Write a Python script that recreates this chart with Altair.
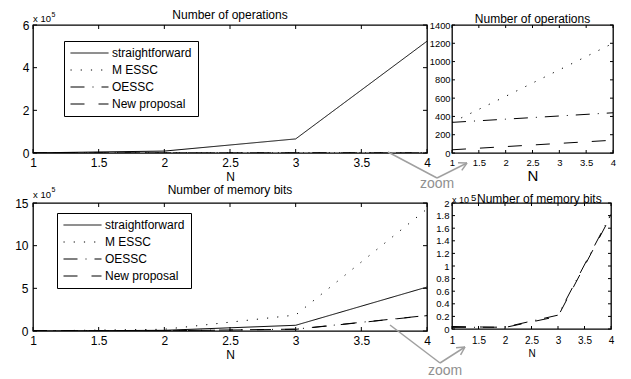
import math
import altair as alt
import pandas as pd

FONT = "Liberation Sans"
GRAY = "#a0a0a0"

N = [1, 2, 3, 4]
SERIES = ["straightforward", "M ESSC", "OESSC", "New proposal"]
DASHES = [[1, 0], [1.2, 9], [14, 8, 1, 8], [14, 14]]

ops_straight = [600, 9000, 66000, 524000]
ops_messc = [335, 620, 910, 1200]
ops_oessc = [335, 370, 405, 440]
ops_new = [35, 70, 105, 140]

mem_straight = [500, 8000, 67000, 515000]
mem_messc = [1000, 20000, 187000, 1430000]
mem_oessc = [2500, 3000, 22000, 182000]
mem_new = [4000, 2500, 20000, 180000]

x_ticks = [1, 1.5, 2, 2.5, 3, 3.5, 4]
ops_ticks = [0, 200000, 400000, 600000]
ops_zoom_ticks = [0, 200, 400, 600, 800, 1000, 1200, 1400]
mem_ticks = [0, 500000, 1000000, 1500000]
mem_zoom_ticks = [0, 20000, 40000, 60000, 80000, 100000, 120000, 140000, 160000, 180000, 200000]


def long_df(vals, names):
    rows = []
    for name, v in zip(SERIES, vals):
        if name in names:
            for n, y in zip(N, v):
                rows.append({"N": n, "value": y, "series": name})
    return pd.DataFrame(rows)


def txt(text, x, y, size, color="black", align="center"):
    return alt.Chart(pd.DataFrame({"t": [text]})).mark_text(
        align=align, baseline="alphabetic", fontSize=size, font=FONT, color=color
    ).encode(x=alt.value(x), y=alt.value(y), text="t:N")


def seg(x1, y1, x2, y2, color=GRAY, w=1.5):
    return alt.Chart(pd.DataFrame({"a": [0]})).mark_rule(color=color, strokeWidth=w).encode(
        x=alt.value(x1), y=alt.value(y1), x2=alt.value(x2), y2=alt.value(y2)
    )


def arrow(p0, p1, p2, head=9):
    dx, dy = p2[0] - p1[0], p2[1] - p1[1]
    L = math.hypot(dx, dy)
    bx, by = -dx / L, -dy / L
    layers = [seg(*p0, *p1), seg(*p1, *p2)]
    for a in (math.radians(28), -math.radians(28)):
        rx = bx * math.cos(a) - by * math.sin(a)
        ry = bx * math.sin(a) + by * math.cos(a)
        layers.append(seg(p2[0], p2[1], p2[0] + head * rx, p2[1] + head * ry))
    return layers


def panel(vals, names, ydom, yticks, ylab_expr, w, h, *, xfs, yfs, nfs, ylp, xlp,
          legend=None, tick=4, tp=3):
    df = long_df(vals, names)
    xs = alt.Scale(domain=[1, 4], nice=False, zero=False)
    ys = alt.Scale(domain=ydom, nice=False, zero=False)
    xaxis = alt.Axis(values=x_ticks, labelFontSize=xfs, labelPadding=xlp, labelFlush=False,
                     labelOverlap=False, title="N", titleFontSize=nfs, titleFontWeight="normal",
                     titlePadding=tp, labelExpr="format(datum.value, '')")
    yaxis = alt.Axis(values=yticks, labelFontSize=yfs, labelPadding=ylp, labelFlush=False,
                     labelOverlap=False, title=None, labelExpr=ylab_expr)
    dash = alt.StrokeDash("series:N", scale=alt.Scale(domain=SERIES, range=DASHES),
                          sort=SERIES, legend=legend)
    lines = alt.Chart(df).mark_line(color="black", strokeWidth=1, clip=True).encode(
        x=alt.X("N:Q", scale=xs, axis=xaxis),
        y=alt.Y("value:Q", scale=ys, axis=yaxis),
        strokeDash=dash,
    )
    xt = pd.DataFrame({"v": x_ticks})
    yt = pd.DataFrame({"v": yticks})
    tk = []
    for a, b in ((h, h - tick), (0, tick)):
        tk.append(alt.Chart(xt).mark_rule(color="black", strokeWidth=1).encode(
            x=alt.X("v:Q", scale=xs, axis=xaxis), y=alt.value(a), y2=alt.value(b)))
    for a, b in ((0, tick), (w, w - tick)):
        tk.append(alt.Chart(yt).mark_rule(color="black", strokeWidth=1).encode(
            y=alt.Y("v:Q", scale=ys, axis=yaxis), x=alt.value(a), x2=alt.value(b)))
    return [lines] + tk


def leg(x, y):
    return alt.Legend(orient="none", legendX=x, legendY=y, title=None, strokeColor="black",
                      fillColor="white", padding=6, symbolType="stroke", symbolSize=1444,
                      symbolStrokeWidth=1, symbolStrokeColor="black", labelFontSize=12,
                      labelFont=FONT, labelColor="black", rowPadding=5, labelOffset=3,
                      clipHeight=12, cornerRadius=0)


e5 = "format(datum.value / 100000, '')"
plain = "format(datum.value, '')"

ops_vals = [ops_straight, ops_messc, ops_oessc, ops_new]
mem_vals = [mem_straight, mem_messc, mem_oessc, mem_new]

TLW, TLH = 394, 128
tl = alt.layer(
    *panel(ops_vals, SERIES, [0, 600000], ops_ticks, e5, TLW, TLH,
           xfs=12, yfs=12, nfs=12, ylp=4, xlp=4, legend=leg(31, 16)),
    txt("Number of operations", 197, -6, 12),
    txt("x 10", 0, -3, 9.5, align="left"),
    txt("5", 18.5, -8.5, 7, align="left"),
    *arrow((355, 127), (404, 153), (434, 138)),
    txt("zoom", 404, 163, 14, color="#909090"),
).properties(width=TLW, height=TLH)

TRW, TRH = 161, 128
tr = alt.layer(
    *panel(ops_vals, SERIES[1:], [0, 1400], ops_zoom_ticks, plain, TRW, TRH,
           xfs=9.5, yfs=9.3, nfs=15, ylp=2, xlp=4, tick=3, tp=2),
    txt("Number of operations", 80.5, -2, 12),
).properties(width=TRW, height=TRH)

BLW, BLH = 394, 128
bl = alt.layer(
    *panel(mem_vals, SERIES, [0, 1500000], mem_ticks, e5, BLW, BLH,
           xfs=12, yfs=12, nfs=12, ylp=5, xlp=4, legend=leg(24, 10)),
    txt("Number of memory bits", 197, -9, 12),
    txt("x 10", 0, -5, 9.5, align="left"),
    txt("5", 18.5, -11, 7, align="left"),
    *arrow((357, 122), (407, 160), (432, 144)),
    txt("zoom", 412, 172, 14, color="#909090"),
).properties(width=BLW, height=BLH)

BRW, BRH = 159, 126
br = alt.layer(
    *panel(mem_vals, SERIES[2:], [0, 200000], mem_zoom_ticks, e5, BRW, BRH,
           xfs=10, yfs=9.5, nfs=10, ylp=3, xlp=6, tick=3, tp=3),
    txt("Number of memory bits", 25, -0.5, 12, align="left"),
    txt("x 10", 0, -0.5, 9, align="left"),
    txt("5", 19, -2.5, 9.5, align="left"),
).properties(width=BRW, height=BRH)

chart = alt.concat(
    tl, tr, bl, br, columns=2, spacing={"row": 50, "column": 25}, bounds="flush"
).resolve_scale(
    strokeDash="independent", x="independent", y="independent"
).resolve_legend(strokeDash="independent").properties(
    padding={"left": 6, "top": 0, "right": 0, "bottom": 0}, background="white"
).configure_axis(
    labelFont=FONT, titleFont=FONT, labelColor="black", titleColor="black",
    domain=False, ticks=False, grid=False, labelOverlap=False,
).configure_view(stroke="black", strokeWidth=1.3)

chart.save("out.html", embed_options={"renderer": "svg", "actions": False})
